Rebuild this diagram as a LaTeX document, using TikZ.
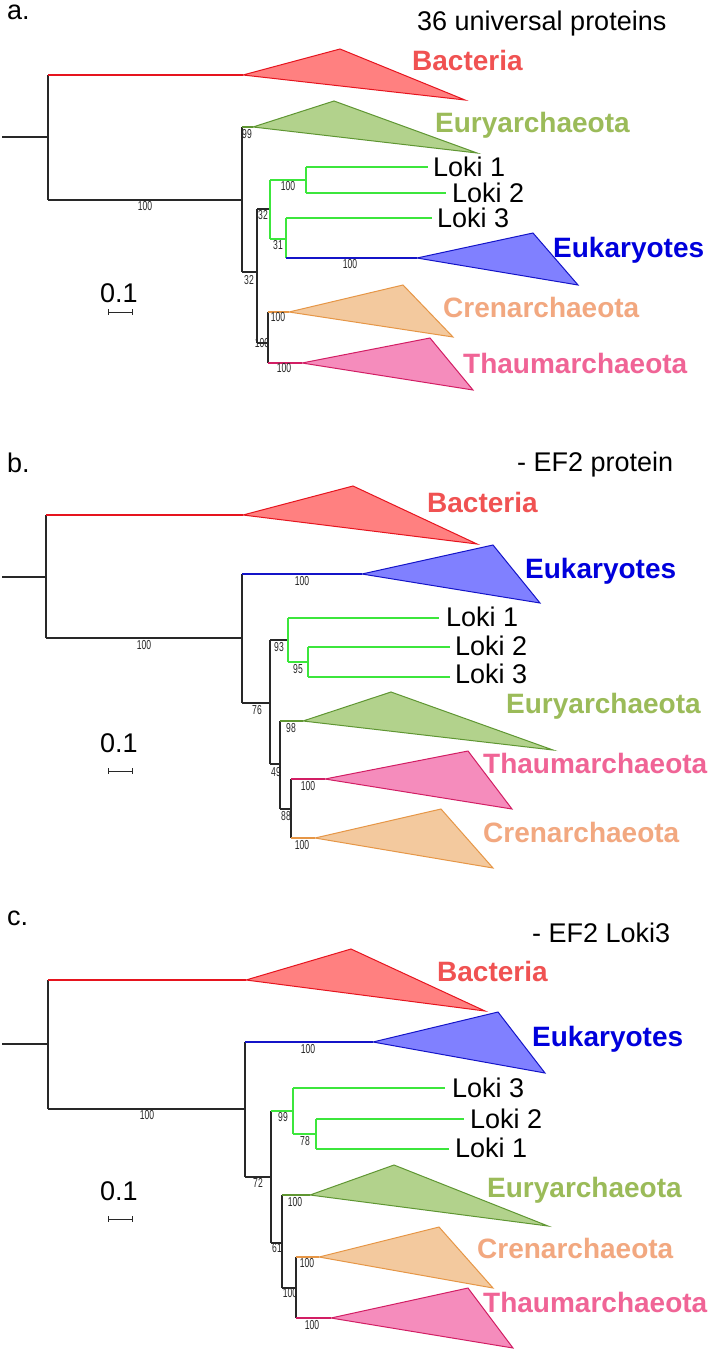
\documentclass[tikz,border=0pt]{standalone}
\usepackage{fontspec}
\setmainfont{Liberation Sans}
\newfontfamily\bsfont[FakeStretch=0.66]{Liberation Sans}
\definecolor{treeblk}{RGB}{40,40,40}
\definecolor{bacline}{RGB}{230,20,30}
\definecolor{bacfill}{RGB}{255,128,128}
\definecolor{baclab}{RGB}{240,82,82}
\definecolor{eurline}{RGB}{95,150,50}
\definecolor{eurfill}{RGB}{178,210,140}
\definecolor{eurlab}{RGB}{155,187,89}
\definecolor{lokigreen}{RGB}{60,230,60}
\definecolor{eukline}{RGB}{20,20,200}
\definecolor{eukfill}{RGB}{128,128,255}
\definecolor{euklab}{RGB}{0,0,220}
\definecolor{crenline}{RGB}{230,150,70}
\definecolor{crenfill}{RGB}{243,201,158}
\definecolor{crenlab}{RGB}{242,168,128}
\definecolor{thmline}{RGB}{210,30,100}
\definecolor{thmfill}{RGB}{245,140,188}
\definecolor{thmlab}{RGB}{240,100,150}
\tikzset{
  blk/.style={draw=treeblk, line width=1.25pt},
  lk/.style={draw=lokigreen, line width=1.25pt},
  bacl/.style={draw=bacline, line width=1.25pt},
  eurl/.style={draw=eurline, line width=1.25pt},
  eukl/.style={draw=eukline, line width=1.25pt},
  crenl/.style={draw=crenline, line width=1.25pt},
  thml/.style={draw=thmline, line width=1.25pt},
  bactri/.style={draw=bacline, fill=bacfill, line width=1pt, line join=miter},
  eurtri/.style={draw=eurline, fill=eurfill, line width=1pt, line join=miter},
  euktri/.style={draw=eukline, fill=eukfill, line width=1pt, line join=miter},
  crentri/.style={draw=crenline, fill=crenfill, line width=1pt, line join=miter},
  thmtri/.style={draw=thmline, fill=thmfill, line width=1pt, line join=miter},
  bs/.style={font=\bsfont\fontsize{13}{13}\selectfont, inner sep=0pt, text=treeblk},
  leaf/.style={font=\fontsize{27}{27}\selectfont, inner sep=0pt, anchor=base west},
  clab/.style={font=\bfseries\fontsize{28}{28}\selectfont, inner sep=0pt, anchor=base west},
  sbar/.style={draw=treeblk, line width=0.9pt},
}
\begin{document}
\begin{tikzpicture}[x=1pt,y=-1pt]
\useasboundingbox[fill=white] (0,0) rectangle (707,1352);

% ================= Panel a =================
\node[leaf] (alab) at (7,19) {a.};
\node[leaf] (atitle) at (417,30) {36 universal proteins};
% triangles
\filldraw[bactri] (243,75) -- (340,49) -- (465,100) -- cycle;
\filldraw[eurtri] (253,127) -- (334,101) -- (477,153) -- cycle;
\filldraw[euktri] (417,258) -- (533,233) -- (578,285) -- cycle;
\filldraw[crentri] (289,312) -- (403,285) -- (453,337) -- cycle;
\filldraw[thmtri] (302,363) -- (430,338) -- (473,390) -- cycle;
% tree
\draw[blk] (2,137) -- (48,137);
\draw[blk] (48,75) -- (48,200);
\draw[bacl] (48,75) -- (243,75);
\draw[blk] (48,200) -- (242,200);
\draw[blk] (242,127) -- (242,272);
\draw[eurl] (242,127) -- (253,127);
\draw[blk] (242,272) -- (257,272);
\draw[blk] (257,209) -- (257,343);
\draw[blk] (257,209) -- (270,209);
\draw[lk] (270,180) -- (270,239);
\draw[lk] (270,180) -- (306,180);
\draw[lk] (306,167) -- (306,193);
\draw[lk] (306,167) -- (428,167);
\draw[lk] (306,193) -- (446,193);
\draw[lk] (270,239) -- (286,239);
\draw[lk] (286,218) -- (286,258);
\draw[lk] (286,218) -- (432,218);
\draw[eukl] (286,258) -- (417,258);
\draw[blk] (257,343) -- (268,343);
\draw[blk] (268,312) -- (268,363);
\draw[crenl] (268,312) -- (289,312);
\draw[thml] (268,363) -- (302,363);
% labels
\node[clab, text=baclab] (abac) at (412,70) {Bacteria};
\node[clab, text=eurlab] (aeur) at (435,132) {Euryarchaeota};
\node[leaf] (al1) at (433,176) {Loki 1};
\node[leaf] (al2) at (452,202) {Loki 2};
\node[leaf] (al3) at (437,227) {Loki 3};
\node[clab, text=euklab] (aeuk) at (553,257) {Eukaryotes};
\node[clab, text=crenlab] (acren) at (443,317) {Crenarchaeota};
\node[clab, text=thmlab] (athm) at (463,373) {Thaumarchaeota};
% bootstraps
\node[bs] (ab1) at (145,206) {100};
\node[bs] (ab2) at (247,134) {99};
\node[bs] (ab3) at (288,186) {100};
\node[bs] (ab4) at (263,215) {32};
\node[bs] (ab5) at (278,245) {31};
\node[bs] (ab6) at (350,264) {100};
\node[bs] (ab7) at (249,280) {32};
\node[bs] (ab8) at (278,317) {100};
\node[bs] (ab9) at (262,343) {100};
\node[bs] (ab10) at (284,368) {100};
% scale
\node[leaf] (ascl) at (100,302) {0.1};
\draw[sbar] (108,312) -- (132,312) (108,309) -- (108,315) (132,309) -- (132,315);

% ================= Panel b =================
\node[leaf] (blab) at (7,472) {b.};
\node[leaf] (btitle) at (517,471) {- EF2 protein};
\filldraw[bactri] (243,515) -- (353,486) -- (477,544) -- cycle;
\filldraw[euktri] (362,574) -- (493,545) -- (540,603) -- cycle;
\filldraw[eurtri] (303,721) -- (391,692) -- (553,750) -- cycle;
\filldraw[thmtri] (325,779) -- (468,751) -- (512,809) -- cycle;
\filldraw[crentri] (315,838) -- (441,809) -- (493,868) -- cycle;
\draw[blk] (2,577) -- (46,577);
\draw[blk] (46,515) -- (46,638);
\draw[bacl] (46,515) -- (243,515);
\draw[blk] (46,638) -- (242,638);
\draw[blk] (242,574) -- (242,703);
\draw[eukl] (242,574) -- (362,574);
\draw[blk] (242,703) -- (270,703);
\draw[blk] (270,640) -- (270,764);
\draw[blk] (270,640) -- (288,640);
\draw[lk] (288,618) -- (288,662);
\draw[lk] (288,618) -- (439,618);
\draw[lk] (288,662) -- (308,662);
\draw[lk] (308,647) -- (308,677);
\draw[lk] (308,647) -- (450,647);
\draw[lk] (308,677) -- (450,677);
\draw[blk] (270,764) -- (280,764);
\draw[blk] (280,721) -- (280,809);
\draw[eurl] (280,721) -- (303,721);
\draw[blk] (280,809) -- (291,809);
\draw[blk] (291,779) -- (291,838);
\draw[thml] (291,779) -- (325,779);
\draw[crenl] (291,838) -- (315,838);
\node[clab, text=baclab] (bbac) at (427,512) {Bacteria};
\node[clab, text=euklab] (beuk) at (525,578) {Eukaryotes};
\node[leaf] (bl1) at (446,626) {Loki 1};
\node[leaf] (bl2) at (455,655) {Loki 2};
\node[leaf] (bl3) at (455,683) {Loki 3};
\node[clab, text=eurlab] (beur) at (506,713) {Euryarchaeota};
\node[clab, text=thmlab] (bthm) at (483,773) {Thaumarchaeota};
\node[clab, text=crenlab] (bcren) at (483,842) {Crenarchaeota};
\node[bs] (bb1) at (144,645) {100};
\node[bs] (bb2) at (302,581) {100};
\node[bs] (bb3) at (279,647) {93};
\node[bs] (bb4) at (298,669) {95};
\node[bs] (bb5) at (257,710) {76};
\node[bs] (bb6) at (291,728) {98};
\node[bs] (bb7) at (276,772) {49};
\node[bs] (bb8) at (308,786) {100};
\node[bs] (bb9) at (286,816) {88};
\node[bs] (bb10) at (302,845) {100};
\node[leaf] (bscl) at (100,752) {0.1};
\draw[sbar] (108,771) -- (132,771) (108,768) -- (108,774) (132,768) -- (132,774);

% ================= Panel c =================
\node[leaf] (clab) at (7,925) {c.};
\node[leaf] (ctitle) at (532,942) {- EF2 Loki3};
\filldraw[bactri] (246,980) -- (351,949) -- (485,1011) -- cycle;
\filldraw[euktri] (373,1042) -- (498,1012) -- (545,1073) -- cycle;
\filldraw[eurtri] (310,1195) -- (394,1165) -- (548,1226) -- cycle;
\filldraw[crentri] (319,1257) -- (439,1227) -- (493,1288) -- cycle;
\filldraw[thmtri] (331,1318) -- (468,1288) -- (513,1348) -- cycle;
\draw[blk] (2,1044) -- (48,1044);
\draw[blk] (48,980) -- (48,1109);
\draw[bacl] (48,980) -- (246,980);
\draw[blk] (48,1109) -- (245,1109);
\draw[blk] (245,1042) -- (245,1177);
\draw[eukl] (245,1042) -- (373,1042);
\draw[blk] (245,1177) -- (271,1177);
\draw[blk] (271,1111) -- (271,1243);
\draw[lk] (271,1111) -- (293,1111);
\draw[lk] (293,1088) -- (293,1134);
\draw[lk] (293,1088) -- (445,1088);
\draw[lk] (293,1134) -- (316,1134);
\draw[lk] (316,1119) -- (316,1149);
\draw[lk] (316,1119) -- (464,1119);
\draw[lk] (316,1149) -- (449,1149);
\draw[blk] (271,1243) -- (282,1243);
\draw[blk] (282,1195) -- (282,1288);
\draw[eurl] (282,1195) -- (310,1195);
\draw[blk] (282,1288) -- (296,1288);
\draw[blk] (296,1257) -- (296,1318);
\draw[crenl] (296,1257) -- (319,1257);
\draw[thml] (296,1318) -- (331,1318);
\node[clab, text=baclab] (cbac) at (437,981) {Bacteria};
\node[clab, text=euklab] (ceuk) at (532,1046) {Eukaryotes};
\node[leaf] (cl3) at (452,1097) {Loki 3};
\node[leaf] (cl2) at (470,1128) {Loki 2};
\node[leaf] (cl1) at (455,1157) {Loki 1};
\node[clab, text=eurlab] (ceur) at (487,1197) {Euryarchaeota};
\node[clab, text=crenlab] (ccren) at (477,1258) {Crenarchaeota};
\node[clab, text=thmlab] (cthm) at (483,1312) {Thaumarchaeota};
\node[bs] (cb1) at (147,1115) {100};
\node[bs] (cb2) at (308,1049) {100};
\node[bs] (cb3) at (283,1117) {99};
\node[bs] (cb4) at (305,1141) {78};
\node[bs] (cb5) at (258,1183) {72};
\node[bs] (cb6) at (295,1202) {100};
\node[bs] (cb7) at (277,1248) {61};
\node[bs] (cb8) at (307,1263) {100};
\node[bs] (cb9) at (290,1293) {100};
\node[bs] (cb10) at (312,1325) {100};
\node[leaf] (cscl) at (100,1200) {0.1};
\draw[sbar] (108,1219) -- (132,1219) (108,1216) -- (108,1222) (132,1216) -- (132,1222);
\end{tikzpicture}
\end{document}
